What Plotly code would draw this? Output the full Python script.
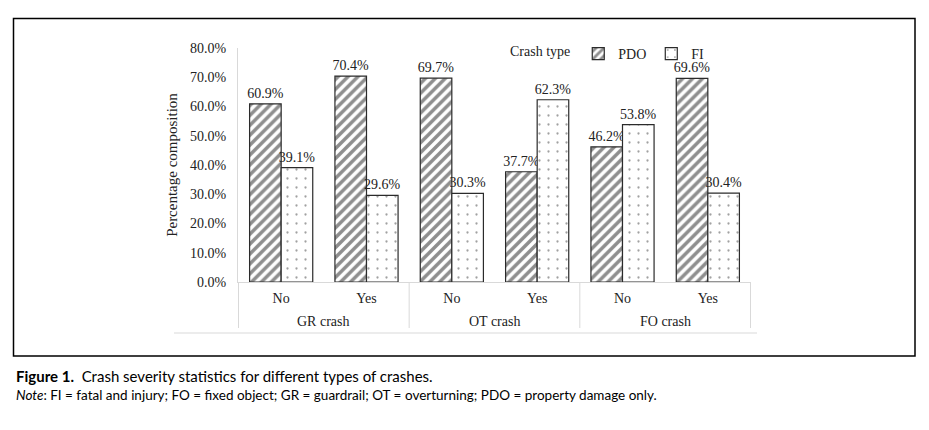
import plotly.graph_objects as go

crash_groups = ["GR crash", "GR crash", "OT crash", "OT crash", "FO crash", "FO crash"]
crash_flags = ["No", "Yes", "No", "Yes", "No", "Yes"]
pdo_values = [60.9, 70.4, 69.7, 37.7, 46.2, 69.6]
fi_values = [39.1, 29.6, 30.3, 62.3, 53.8, 30.4]
y_ticks = [0, 10, 20, 30, 40, 50, 60, 70, 80]

SERIF = "Liberation Serif"
SANS = "Lato"
GRID = "#d9d9d9"

# plot area in pixels
L, R, T, B = 238, 751, 48, 282
W, H = 929, 430
pw, ph = R - L, B - T

def px_x(p):
    return (p - L) / pw

def px_y(p):
    return (B - p) / ph

keys = [f"{g} | {f}" for g, f in zip(crash_groups, crash_flags)]

fig = go.Figure()
fig.add_trace(go.Bar(
    name="PDO", x=keys, y=pdo_values,
    text=[f"{v:.1f}%" for v in pdo_values], textposition="outside", constraintext="none",
    textfont=dict(family=SERIF, size=14, color="#222"),
    marker=dict(color="white", line=dict(color="#2b2b2b", width=1.2),
                pattern=dict(shape="/", fgcolor="#1e1e1e", bgcolor="white", size=7, solidity=0.5)),
    cliponaxis=False,
))
fig.add_trace(go.Bar(
    name="FI", x=keys, y=fi_values,
    text=[f"{v:.1f}%" for v in fi_values], textposition="outside", constraintext="none",
    textfont=dict(family=SERIF, size=14, color="#222"),
    marker=dict(color="white", line=dict(color="#2b2b2b", width=1.2),
                pattern=dict(shape=".", fgcolor="#444444", bgcolor="white", size=9, solidity=0.05)),
    cliponaxis=False,
))

fig.update_layout(
    width=W, height=H,
    margin=dict(l=L, r=W - R, t=T, b=H - B),
    paper_bgcolor="white", plot_bgcolor="white",
    barmode="group", bargap=0.26, bargroupgap=0,
    font=dict(family=SERIF, size=14, color="#222"),
    showlegend=True,
    legend=dict(orientation="h", x=px_x(508), y=px_y(38), xanchor="left", yanchor="top",
                title=dict(text="Crash type", side="left", font=dict(family=SERIF, size=14)),
                font=dict(family=SERIF, size=14), bgcolor="rgba(0,0,0,0)",
                itemwidth=30, traceorder="normal", tracegroupgap=0),
    xaxis=dict(type="category", tickvals=keys, ticktext=crash_flags,
               showline=True, linecolor=GRID, linewidth=1, ticks="",
               tickfont=dict(family=SERIF, size=14, color="#222"), ticklabelstandoff=3),
    yaxis=dict(range=[0, 80], tickvals=y_ticks, ticktext=[f"{v:.1f}%" for v in y_ticks],
               showgrid=False, zeroline=False, showline=True, linecolor=GRID, linewidth=1,
               tickfont=dict(family=SERIF, size=14, color="#222"), ticks="", ticklabelstandoff=8,
               title=dict(text="Percentage composition", font=dict(family=SERIF, size=15), standoff=8)),
)

# group labels and dividers of the two-level category axis
groups = list(dict.fromkeys(crash_groups))
for g in groups:
    idx = [i for i, cg in enumerate(crash_groups) if cg == g]
    fig.add_annotation(xref="x", yref="paper", x=sum(idx) / len(idx), y=px_y(321),
                       xanchor="center", yanchor="middle", showarrow=False, text=g,
                       font=dict(family=SERIF, size=14, color="#222"))
divs = [-0.5] + [i + 0.5 for i in range(len(crash_groups) - 1) if crash_groups[i] != crash_groups[i + 1]] + [len(crash_groups) - 0.5]
for d in divs:
    fig.add_shape(type="line", xref="x", yref="paper", x0=d, x1=d, y0=0, y1=px_y(328),
                  line=dict(color=GRID, width=1))

# outer frame
fig.add_shape(type="rect", xref="paper", yref="paper",
              x0=px_x(13.5), x1=px_x(915), y0=px_y(356), y1=px_y(18.5),
              line=dict(color="black", width=1.5), fillcolor="rgba(0,0,0,0)", layer="below")
# light bottom rule of the chart area
fig.add_shape(type="line", xref="paper", yref="paper",
              x0=px_x(174), x1=px_x(757), y0=px_y(333), y1=px_y(333),
              line=dict(color=GRID, width=1))

fig.add_annotation(xref="paper", yref="paper", x=px_x(14), y=px_y(365), xanchor="left", yanchor="top",
                   showarrow=False, align="left",
                   text="<b>Figure 1.</b>  Crash severity statistics for different types of crashes.",
                   font=dict(family=SANS, size=15, color="black"))
fig.add_annotation(xref="paper", yref="paper", x=px_x(14), y=px_y(385), xanchor="left", yanchor="top",
                   showarrow=False, align="left",
                   text="<i>Note</i>: FI = fatal and injury; FO = fixed object; GR = guardrail; OT = overturning; PDO = property damage only.",
                   font=dict(family=SANS, size=13.5, color="black"))

fig.write_html("out.html", config={"displayModeBar": False},
               post_script="document.body.style.margin='0px';")
